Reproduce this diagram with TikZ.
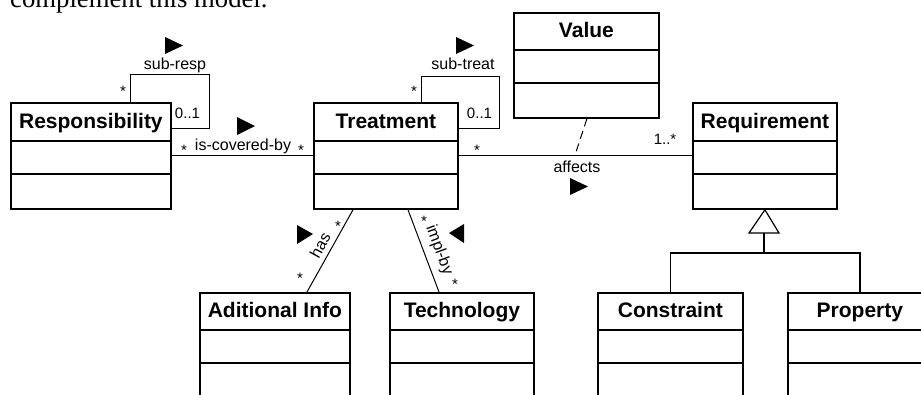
\documentclass[tikz,border=0pt]{standalone}
\usepackage{fontspec}
\setmainfont{Liberation Sans}
\newfontfamily\serifz{Liberation Serif}
\usetikzlibrary{calc}
\tikzset{
  umlbox/.style={draw, line width=1.8pt, inner sep=0pt, anchor=north west},
  umltitle/.style={font=\bfseries\fontsize{21}{24}\selectfont, inner sep=0pt, anchor=base},
  sepline/.style={line width=1.8pt},
  assoc/.style={line width=1pt},
  genline/.style={line width=1.2pt},
  lbl/.style={font=\fontsize{16}{18}\selectfont, inner sep=0pt},
  mult/.style={font=\fontsize{15}{17}\selectfont, inner sep=0pt},
  dirtri/.style={fill=black, draw=none},
}
% name, left, top, width, height, title height, title
\newcommand{\umlclass}[7]{%
  \node[umlbox, minimum width=#4, minimum height=#5] (#1) at (#2,#3) {};
  \node[umltitle] (#1-title) at ($(#1.north)+(0,#6/2+6.5)$) {#7};
  \draw[sepline] ($(#1.north west)+(0,#6)$) -- ($(#1.north east)+(0,#6)$);
  \draw[sepline] ($(#1.north west)+(0,#6+33)$) -- ($(#1.north east)+(0,#6+33)$);
}
\begin{document}
\begin{tikzpicture}[x=1pt,y=-1pt]
\useasboundingbox (0,0) rectangle (921,394);
\fill[white] (0,0) rectangle (921,394);
\begin{scope}
\clip (0,0) rectangle (921,394);

\node[anchor=base west, inner sep=0pt, font=\serifz\fontsize{26.7}{30}\selectfont] (cap) at (10,7) {complement this model.};

\umlclass{resp}{10}{102}{160}{106}{39}{Responsibility}
\umlclass{treat}{313}{102}{144}{106}{39}{Treatment}
\umlclass{value}{513}{12}{145}{105}{38}{Value}
\umlclass{req}{692}{102}{144}{106}{39}{Requirement}
\umlclass{addinfo}{199}{292}{150}{106}{38}{Aditional Info}
\umlclass{tech}{389}{292}{144}{106}{38}{Technology}
\umlclass{constr}{597}{292}{145}{106}{38}{Constraint}
\umlclass{prop}{787}{292}{144}{106}{38}{Property}

% sub-resp self association
\draw[assoc] ($(resp.north west)+(120,0)$) |- (209,74) |- ($(resp.north east)+(0,26)$);
\node[lbl, anchor=base] (subresp) at (175,69) {sub-resp};
\fill[dirtri] (165,37) -- (165,54) -- (183,45.5) -- cycle;
\node[mult] (m1) at (123,91) {*};
\node[mult] (m2) at (187.5,113.5) {0..1};

% sub-treat self association
\draw[assoc] ($(treat.north west)+(108,0)$) |- (499,76) |- ($(treat.north east)+(0,26)$);
\node[lbl, anchor=base] (subtreat) at (463,69) {sub-treat};
\fill[dirtri] (456,37) -- (456,54) -- (474,45.5) -- cycle;
\node[mult] (m3) at (414,91) {*};
\node[mult] (m4) at (479.5,113.5) {0..1};

% is-covered-by
\draw[assoc] (resp.east) -- (treat.west);
\node[lbl, anchor=base] (cov) at (243,150) {is-covered-by};
\fill[dirtri] (237,117) -- (237,135) -- (255,126) -- cycle;
\node[mult] (m5) at (184,150) {*};
\node[mult] (m6) at (301,150) {*};

% affects
\draw[assoc] (treat.east) -- (req.west);
\coordinate (affpt) at (575,155);
\draw[assoc, dash pattern=on 8pt off 5pt] ($(value.south)+(0.5,0)$) -- (affpt);
\node[lbl, anchor=base] (aff) at (577,172) {affects};
\fill[dirtri] (570,178) -- (570,195) -- (588,186.5) -- cycle;
\node[mult] (m7) at (477,150) {*};
\node[mult] (m8) at (665,139) {1..*};

% has
\draw[assoc] ($(treat.south west)+(40,0)$) -- ($(addinfo.north west)+(108,0)$);
\node[lbl, rotate=61] (has) at (320,245) {has};
\fill[dirtri] (297,225) -- (297,244) -- (313,234) -- cycle;
\node[mult] (m9) at (338,226) {*};
\node[mult] (m10) at (300,278) {*};

% impl-by
\draw[assoc] ($(treat.south west)+(95,0)$) -- ($(tech.north west)+(50,0)$);
\node[lbl, rotate=-69.7] (impl) at (439,250) {impl-by};
\fill[dirtri] (449,233) -- (464,224) -- (464,243) -- cycle;
\node[mult] (m11) at (424,221) {*};
\node[mult] (m12) at (455,284) {*};

% generalization
\coordinate (gbase) at (764,233);
\coordinate (gjoin) at (764,253);
\draw[genline, fill=white] (req.south) -- (749,233) -- (779,233) -- cycle;
\draw[genline] (gbase) -- (gjoin);
\draw[genline] (constr.north) |- (gjoin);
\draw[genline] (prop.north) |- (gjoin);
\end{scope}
\end{tikzpicture}
\end{document}
